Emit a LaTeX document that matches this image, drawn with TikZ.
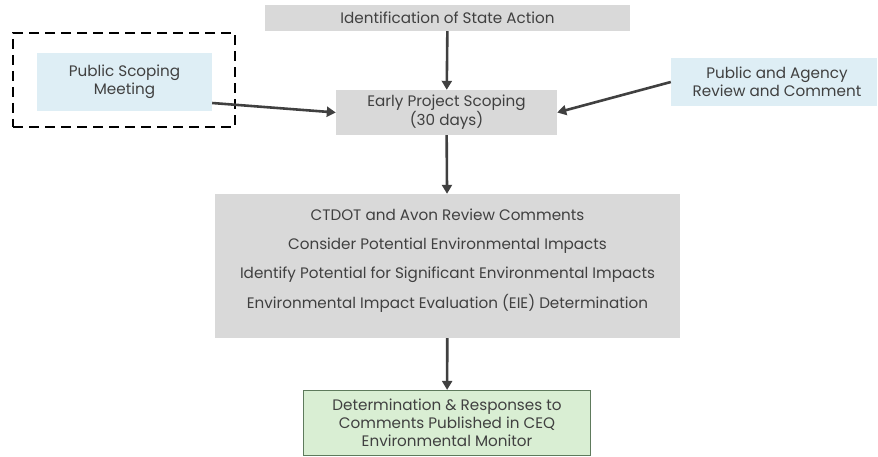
\documentclass[tikz,border=0pt]{standalone}
\usepackage{fontspec}
\setmainfont{Poppins}
\usetikzlibrary{arrows.meta}

\definecolor{stepgray}{HTML}{D9D9D9}
\definecolor{inputblue}{HTML}{DEEEF5}
\definecolor{resultgreen}{HTML}{D9EED3}
\definecolor{resultedge}{HTML}{5E7A5C}
\definecolor{textgray}{HTML}{404040}
\definecolor{flowgray}{HTML}{404040}

\tikzset{
  stepbox/.style={fill=stepgray, text=textgray, align=center, inner sep=2pt,
    font=\fontsize{15.2}{18}\selectfont},
  inputbox/.style={stepbox, fill=inputblue},
  flow/.style={-{Triangle[width=10pt,length=9pt]}, line width=2.6pt, flowgray}
}

\begin{document}
\begin{tikzpicture}[x=1pt, y=-1pt]
  \useasboundingbox (0,0) rectangle (878,457);

  % Main process steps
  \node[stepbox, minimum width=365pt, minimum height=26pt] (ident) at (447.5,18) {Identification of State Action};
  \node[stepbox, minimum width=221pt, minimum height=45pt,
    font=\fontsize{15.2}{16}\selectfont] (early) at (446.5,112.5) {Early Project Scoping\\(30 days)};
  % empty last line lifts the four items a little
  \node[stepbox, minimum width=465pt, minimum height=144pt] (review) at (447.5,266)
    {CTDOT and Avon Review Comments\\[11pt]
     Consider Potential Environmental Impacts\\[11pt]
     Identify Potential for Significant Environmental Impacts\\[11pt]
     Environmental Impact Evaluation (EIE) Determination\\[-4pt]\mbox{}};
  \node[stepbox, fill=resultgreen, draw=resultedge, line width=1.2pt,
    minimum width=287pt, minimum height=65pt] (final) at (447,423)
    {Determination \& Responses to\\Comments Published in CEQ\\Environmental Monitor};

  % Public input
  \node[inputbox, minimum width=175pt, minimum height=58pt] (psm) at (124.5,82) {Public Scoping\\Meeting};
  \node[inputbox, minimum width=206pt, minimum height=48pt] (par) at (774,82) {\hspace*{6pt}Public and Agency\\\hspace*{6pt}Review and Comment};
  \node[draw=black, line width=2.6pt, dash pattern=on 10pt off 6pt,
    minimum width=222pt, minimum height=94pt] (scopeframe) at (124,80) {};

  % Flow arrows
  \draw[flow] (ident) -- (early);
  \draw[flow] ([yshift=-21pt]psm.east) -- (early.west);
  \draw[flow] (par.west) -- (early.east);
  \draw[flow] (early) -- (review);
  \draw[flow] (review) -- (final);
\end{tikzpicture}
\end{document}
